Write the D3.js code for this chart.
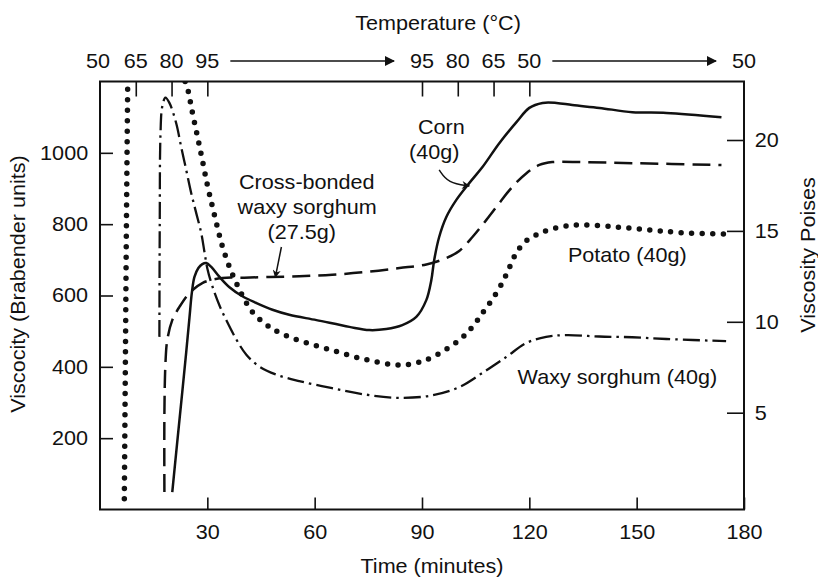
<!DOCTYPE html>
<html><head><meta charset="utf-8">
<script src="https://cdn.jsdelivr.net/npm/d3@7"></script>
<style>html,body{margin:0;padding:0;background:#fff}svg{display:block}</style>
</head><body>
<script>
// ---- data ----
const timeTicks = [30, 60, 90, 120, 150, 180];
const buTicks = [200, 400, 600, 800, 1000];
const poiseTicks = [5, 10, 15, 20];
const tempTickTimes = [10, 20, 30, 90, 100, 110, 120];
const tempLabelTimes = [0, 10, 20, 30, 90, 100, 110, 120, 180];
const tempLabels = ["50", "65", "80", "95", "95", "80", "65", "50", "50"];
const tempArrows = [[30, 90], [120, 180]];

const cornT  = [20.2,21.6,23.0,24.1,25.0,25.7,26.4,27.5,28.6,29.7,31.1,33.4,36.1,39.8,43.7,48.2,52.9,60.5,69.7,75.3,80.0,84.5,88.4,91.2,92.6,93.4,94.8,96.8,99.6,103.2,106.9,111.6,116.4,120.0,123.7,127.6,132.0,139.6,148.8,158.3,173.7];
const cornBU = [49,190,330,441,537,610,652,677,688,691,680,652,624,598,579,560,546,531,512,503,506,517,540,587,643,699,764,820,868,915,960,1027,1086,1126,1140,1140,1134,1126,1114,1112,1100];

const crossT  = [18.0,18.0,18.3,18.8,20.2,22.2,25.0,28.6,34.2,40.3,47.3,55.7,64.9,74.4,83.7,91.2,96.8,100.4,104.1,108.0,111.6,115.2,119.2,122.8,126.4,134.8,148.8,173.7];
const crossBU = [49,270,411,475,531,568,607,635,649,650,652,654,658,666,677,687,705,725,764,812,859,904,943,966,974,974,971,966];

const potatoT  = [6.8,7.1,7.4,7.75,null,23.8,24.4,25.8,27.2,28.6,30.0,31.4,32.8,34.2,36.1,38.1,40.3,42.6,46.5,50.1,55.7,65.0,74.4,83.6,88.4,92.9,100.4,104.1,106.9,109.7,112.4,114.5,116.5,119.0,122.0,125.5,130.3,135.0,144.3,153.5,162.7,175.0];
const potatoBU = [30,420,820,1200,null,1200,1184,1114,1048,980,910,850,792,738,682,635,590,554,518,496,474,446,420,405,411,427,475,512,551,590,635,680,722,752,770,784,795,798,792,784,776,772];

const waxyT  = [16.6,16.7,16.9,17.4,18.3,19.4,21.3,22.7,24.1,25.5,26.9,28.3,29.2,30.0,31.4,33.4,35.3,38.1,40.9,44.5,49.3,55.7,64.9,74.4,83.7,92.9,100.4,106.9,113.6,119.2,124.7,130.3,139.5,148.8,158.3,175.0];
const waxyBU = [484,800,1050,1130,1155,1140,1083,1016,952,887,831,775,722,676,626,572,531,477,434,401,378,360,340,322,313,320,343,383,428,467,484,489,485,483,478,472];

const labels = [
  {text:"Corn", t:95.4, v:1072},
  {text:"(40g)", t:93.4, v:1002},
  {text:"Cross-bonded", t:57.8, v:918},
  {text:"waxy sorghum", t:57.9, v:848},
  {text:"(27.5g)", t:56.4, v:778},
  {text:"Potato (40g)", t:147.4, v:714},
  {text:"Waxy sorghum (40g)", t:144.6, v:371}
];
const cornArrow = [[94.8,952],[97.3,915],[103.2,907]];
const crossArrow = [[50.7,736],[49.0,651]];

// ---- layout ----
const W = 818, H = 579;
const L = 100, R = 744, T = 81.5, B = 509.5;
const SX = 1.08;
const FONT = "'Liberation Sans', Arial, Helvetica, sans-serif";
const INK = "#111";

const svg = d3.select("body").append("svg").attr("width", W).attr("height", H)
  .style("font-family", FONT);
svg.append("rect").attr("width", W).attr("height", H).attr("fill", "#fff");

const x = d3.scaleLinear().domain([0, 180]).range([L, R]);
const y = d3.scaleLinear().domain([0, 1200]).range([B, T]);
const yP = d3.scaleLinear().domain([5, 20]).range([412.7, 140]);

const defs = svg.append("defs");
defs.append("clipPath").attr("id", "clip").append("rect")
  .attr("x", L).attr("y", T).attr("width", R - L).attr("height", B - T);
defs.append("marker").attr("id", "bigArrow").attr("viewBox", "0 0 10 10")
  .attr("refX", 9).attr("refY", 5).attr("markerUnits", "userSpaceOnUse")
  .attr("markerWidth", 15).attr("markerHeight", 10).attr("orient", "auto")
  .append("path").attr("d", "M0,0 L10,5 L0,10 Z").attr("fill", INK);
defs.append("marker").attr("id", "smallArrow").attr("viewBox", "0 0 10 10")
  .attr("refX", 9).attr("refY", 5).attr("markerUnits", "userSpaceOnUse")
  .attr("markerWidth", 11).attr("markerHeight", 8).attr("orient", "auto")
  .append("path").attr("d", "M0,0 L10,5 L0,10 L3,5 Z").attr("fill", INK);

function styleAxis(g) {
  g.select(".domain").remove();
  g.attr("font-family", FONT).attr("font-size", 20);
  g.selectAll(".tick line").attr("stroke", INK).attr("stroke-width", 1.6);
  g.selectAll(".tick text").attr("fill", INK)
    .attr("transform", `scale(${SX},1)`);
}

// bottom axis
svg.append("g").attr("transform", `translate(0,${B})`)
  .call(d3.axisBottom(x).tickValues(timeTicks).tickFormat(d3.format("d"))
    .tickSize(-12).tickSizeOuter(0).tickPadding(15))
  .call(styleAxis);
// left axis
svg.append("g").attr("transform", `translate(${L},0)`)
  .call(d3.axisLeft(y).tickValues(buTicks).tickFormat(d3.format("d"))
    .tickSize(-13).tickSizeOuter(0).tickPadding(11))
  .call(styleAxis);
// right axis
svg.append("g").attr("transform", `translate(${R},0)`)
  .call(d3.axisRight(yP).tickValues(poiseTicks).tickFormat(d3.format("d"))
    .tickSize(-17).tickSizeOuter(0).tickPadding(10))
  .call(styleAxis);
// top temperature ticks
svg.append("g").attr("transform", `translate(0,${T})`)
  .call(d3.axisTop(x).tickValues(tempTickTimes).tickSize(-15).tickSizeOuter(0).tickFormat(""))
  .call(styleAxis);

// temperature labels
svg.append("g").selectAll("text").data(tempLabelTimes).join("text")
  .attr("transform", d => `translate(${x(d) - (d === 0 ? 2 : 0)},61) scale(${SX},1)`)
  .attr("text-anchor", "middle").attr("dy", "0.35em")
  .attr("font-size", 20).attr("fill", INK)
  .text((d, i) => tempLabels[i]);
svg.append("g").selectAll("line").data(tempArrows).join("line")
  .attr("x1", d => x(d[0]) + 23).attr("x2", d => x(d[1]) - 28)
  .attr("y1", 61).attr("y2", 61)
  .attr("stroke", INK).attr("stroke-width", 1.6)
  .attr("marker-end", "url(#bigArrow)");

// frame
svg.append("rect").attr("x", L).attr("y", T).attr("width", R - L).attr("height", B - T)
  .attr("fill", "none").attr("stroke", INK).attr("stroke-width", 2);

// axis titles
function title(txt, tx, ty, rot) {
  svg.append("text")
    .attr("transform", `translate(${tx},${ty}) rotate(${rot}) scale(${SX},1)`)
    .attr("text-anchor", "middle").attr("dy", "0.35em")
    .attr("font-size", 20).attr("fill", INK).text(txt);
}
title("Temperature (°C)", 438, 23, 0);
title("Time (minutes)", 432, 566, 0);
title("Viscocity (Brabender units)", 18, 284, -90);
title("Viscosity Poises", 808, 255, -90);

// curves
const line = d3.line()
  .defined(d => d[0] != null && d[1] != null)
  .x(d => x(d[0])).y(d => y(d[1]))
  .curve(d3.curveCatmullRom.alpha(0.5));
const zip = (a, b) => a.map((v, i) => [v, b[i]]);

const plotG = svg.append("g").attr("clip-path", "url(#clip)");
plotG.append("path").datum(zip(cornT, cornBU)).attr("d", line)
  .attr("fill", "none").attr("stroke", INK).attr("stroke-width", 2.5);
plotG.append("path").datum(zip(crossT, crossBU)).attr("d", line)
  .attr("fill", "none").attr("stroke", INK).attr("stroke-width", 2.5)
  .attr("stroke-dasharray", "18,8");
plotG.append("path").datum(zip(waxyT, waxyBU)).attr("d", line)
  .attr("fill", "none").attr("stroke", INK).attr("stroke-width", 2.3)
  .attr("stroke-dasharray", "17,5,2.5,5");
plotG.append("path").datum(zip(potatoT, potatoBU)).attr("d", line)
  .attr("fill", "none").attr("stroke", INK).attr("stroke-width", 5.5)
  .attr("stroke-linecap", "round").attr("stroke-dasharray", "0,10.5");

// annotations
svg.append("g").selectAll("text").data(labels).join("text")
  .attr("transform", d => `translate(${x(d.t)},${y(d.v)}) scale(${SX},1)`)
  .attr("text-anchor", "middle").attr("dy", "0.35em")
  .attr("font-size", 20).attr("fill", INK).text(d => d.text);

const arrowLine = d3.line().x(d => x(d[0])).y(d => y(d[1])).curve(d3.curveBasis);
svg.append("path").datum(cornArrow).attr("d", arrowLine)
  .attr("fill", "none").attr("stroke", INK).attr("stroke-width", 1.5)
  .attr("marker-end", "url(#smallArrow)");
svg.append("path").datum(crossArrow).attr("d", arrowLine)
  .attr("fill", "none").attr("stroke", INK).attr("stroke-width", 1.5)
  .attr("marker-end", "url(#smallArrow)");
</script>
</body></html>
